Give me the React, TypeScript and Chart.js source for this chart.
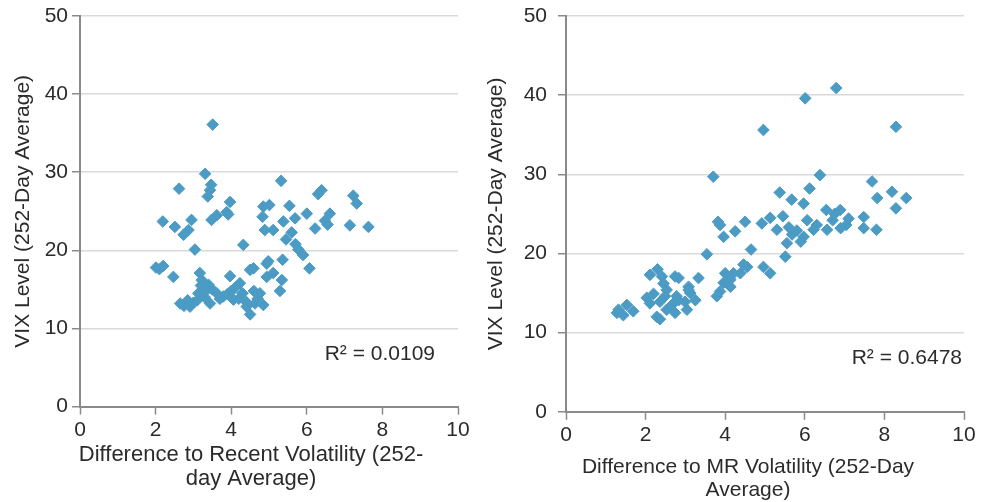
import React, { useEffect, useRef } from "react";
import { Chart, registerables } from "chart.js";

Chart.register(...registerables);

const FONT = "'Liberation Sans', Arial, sans-serif";
const TEXT = "#2b2b2b";
const AXIS = "#8a8a8a";
const GRID = "#dadada";
const MARKER = "#4b9bc4";

// Left panel: Difference to Recent Volatility vs VIX level
const recentDiff = [
  3.51, 3.31, 5.32, 3.47, 3.44, 2.62, 6.39, 6.3, 7.23, 7.32,
  3.38, 3.97, 5.01, 5.54, 4.85, 3.88, 3.62, 3.92, 4.83, 6.0,
  6.61, 5.69, 3.48, 2.19, 2.95, 5.38, 6.48, 2.51, 2.87, 7.14,
  7.63, 6.22, 6.55, 2.74, 4.89, 5.11, 5.6, 5.45, 4.32, 3.04,
  5.7, 5.78, 5.9, 2.01, 2.2, 2.1, 6.07, 4.59, 4.98, 5.36,
  4.94, 2.47, 3.17, 3.97, 4.5, 5.11, 5.34, 4.94, 4.23, 3.22,
  3.35, 5.29, 4.76, 3.13, 3.62, 3.79, 3.44, 4.06, 4.41, 4.5,
  2.65, 2.91, 2.75, 3.0, 3.3, 3.5, 3.2, 3.9, 4.2, 4.3,
  4.63, 4.85, 4.7, 4.6, 4.4, 4.0, 3.7, 3.1, 2.85, 3.4, 4.1,
];
const recentVix = [
  36.1, 29.8, 28.9, 28.4, 27.7, 27.9, 27.7, 27.2, 27.0, 26.0,
  26.9, 26.2, 25.8, 25.7, 25.6, 24.9, 24.5, 24.6, 24.3, 24.7,
  24.7, 24.1, 23.9, 23.7, 23.9, 23.7, 23.8, 23.0, 22.6, 23.2,
  23.0, 22.8, 23.3, 22.0, 22.6, 22.6, 22.3, 21.4, 20.7, 20.1,
  20.8, 20.1, 19.4, 17.8, 18.0, 17.6, 17.7, 17.7, 18.6, 18.8,
  18.3, 16.6, 17.1, 16.7, 17.5, 17.1, 16.2, 16.6, 15.8, 16.2,
  14.9, 14.8, 14.5, 14.5, 14.5, 14.1, 13.2, 13.7, 12.8, 11.8,
  13.2, 12.8, 12.9, 13.3, 14.0, 15.0, 15.5, 14.4, 13.8, 14.5,
  13.2, 13.0, 13.8, 14.8, 13.4, 14.8, 13.8, 13.6, 13.6, 15.6, 15.2,
];

// Right panel: Difference to MR Volatility vs VIX level
const mrDiff = [
  6.79, 6.01, 4.96, 8.29, 3.7, 6.38, 7.69, 6.12, 5.37, 8.19,
  5.67, 5.97, 7.82, 8.55, 8.29, 6.54, 6.89, 7.48, 7.8, 7.48,
  7.04, 6.7, 6.56, 6.06, 6.22, 5.97, 5.68, 5.55, 5.51, 5.45,
  5.13, 4.92, 4.5, 4.25, 3.96, 3.87, 3.82, 4.65, 3.54, 4.96,
  5.13, 4.55, 4.38, 4.13, 3.96, 4.0, 3.87, 3.79, 4.46, 4.21,
  4.04, 4.13, 2.3, 2.11, 2.41, 2.74, 2.83, 3.33, 3.08, 2.53,
  3.12, 2.78, 2.03, 2.11, 2.36, 2.7, 2.99, 2.53, 2.28, 2.36,
  2.74, 3.04, 1.53, 1.28, 1.69, 1.44, 2.49, 2.83, 3.25, 3.08,
  1.32, 2.2, 2.6, 2.45, 5.6, 5.8, 6.3, 6.9, 6.75, 7.1,
  5.3, 5.9,
];
const mrVix = [
  40.9, 39.6, 35.6, 36.0, 29.7, 29.9, 29.1, 28.2, 27.7, 27.8,
  26.8, 26.3, 27.0, 27.0, 25.7, 25.5, 25.5, 24.6, 23.0, 23.2,
  23.6, 24.2, 23.0, 24.2, 23.0, 22.1, 22.4, 21.3, 19.6, 24.7,
  24.5, 23.8, 24.0, 22.8, 22.1, 23.6, 24.0, 20.5, 19.9, 18.3,
  17.5, 18.3, 17.5, 16.7, 16.3, 17.5, 15.2, 14.6, 18.6, 17.5,
  16.3, 15.8, 18.0, 17.3, 17.1, 17.1, 16.9, 16.9, 15.8, 15.4,
  15.0, 14.6, 14.4, 13.7, 13.9, 13.7, 13.9, 12.9, 12.0, 11.7,
  12.5, 12.9, 13.5, 12.5, 12.7, 12.2, 14.6, 14.1, 14.1, 15.4,
  12.9, 14.9, 13.2, 16.2, 23.3, 22.9, 23.6, 23.2, 25.0, 24.4,
  23.0, 21.5,
];

const yTitle = "VIX Level (252-Day Average)";
const leftXTitle = ["Difference to Recent Volatility (252-", "day Average)"];
const rightXTitle = ["Difference to MR Volatility (252-Day", "Average)"];
const leftR2 = "R² = 0.0109";
const rightR2 = "R² = 0.6478";

type PanelProps = {
  xs: number[];
  ys: number[];
  xTitle: string[];
  r2: string;
  left: number;
  width: number;
  yAxisWidth: number;
  rightGap: number;
  xAxisHeight: number;
  padTop: number;
  titleSize: number;
  titlePadBottom: number;
  yTickPad: number;
  yTitlePad: number;
  r2Right: number;
  r2Up: number;
};

function Panel(p: PanelProps) {
  const ref = useRef<HTMLCanvasElement | null>(null);
  useEffect(() => {
    if (!ref.current) return;
    const points = p.xs.map((x, i) => ({ x, y: p.ys[i] }));
    const r2Plugin = {
      id: "r2label",
      afterDatasetsDraw(chart: any) {
        const { ctx, chartArea } = chart;
        ctx.save();
        ctx.font = `21px ${FONT}`;
        ctx.fillStyle = TEXT;
        ctx.textAlign = "right";
        ctx.textBaseline = "middle";
        ctx.fillText(p.r2, chartArea.right - p.r2Right, chartArea.bottom - p.r2Up);
        ctx.restore();
      },
    };
    const chart = new Chart(ref.current, {
      type: "scatter",
      data: {
        datasets: [
          {
            data: points,
            pointStyle: "rectRot",
            pointRadius: 5.8,
            pointBorderWidth: 1,
            backgroundColor: MARKER,
            borderColor: MARKER,
          },
        ],
      },
      options: {
        responsive: false,
        animation: false,
        layout: { padding: { top: p.padTop, left: 0, right: 0, bottom: 0 } },
        plugins: {
          legend: { display: false },
          tooltip: { enabled: false },
          title: {
            display: true,
            position: "bottom",
            text: p.xTitle,
            color: TEXT,
            font: { family: FONT, size: p.titleSize, weight: "normal", lineHeight: 1.1 },
            padding: { top: 0, bottom: p.titlePadBottom },
          },
        },
        scales: {
          x: {
            type: "linear",
            min: 0,
            max: 10,
            ticks: { stepSize: 2, color: TEXT, font: { family: FONT, size: 21 }, padding: 3 },
            grid: { drawOnChartArea: false, tickLength: 8, tickColor: AXIS, tickWidth: 1.5 },
            border: { color: AXIS, width: 2 },
            afterFit: (s: any) => {
              s.height = p.xAxisHeight;
            },
          },
          y: {
            type: "linear",
            min: 0,
            max: 50,
            ticks: { stepSize: 10, color: TEXT, font: { family: FONT, size: 21 }, padding: p.yTickPad },
            grid: { color: GRID, lineWidth: 1.5, tickLength: 8, tickColor: AXIS, tickWidth: 1.5 },
            border: { color: AXIS, width: 2 },
            title: {
              display: true,
              text: yTitle,
              color: TEXT,
              font: { family: FONT, size: 21, lineHeight: 1.2 },
              padding: { top: p.yTitlePad, bottom: 0 },
            },
            afterFit: (s: any) => {
              s.width = p.yAxisWidth;
              s.paddingTop = 0;
              s.paddingBottom = 0;
            },
          },
          gap: {
            type: "linear",
            position: "right",
            min: 0,
            max: 50,
            ticks: { display: false },
            grid: { display: false, drawTicks: false },
            border: { display: false },
            afterFit: (s: any) => {
              s.width = p.rightGap;
              s.paddingTop = 0;
              s.paddingBottom = 0;
            },
          },
        },
      },
      plugins: [r2Plugin],
    } as any);
    return () => chart.destroy();
  }, []);
  return (
    <canvas
      ref={ref}
      width={p.width}
      height={502}
      style={{ position: "absolute", left: p.left, top: 0, width: p.width, height: 502 }}
    />
  );
}

export default function App() {
  return (
    <div
      style={{
        position: "absolute",
        left: 0,
        top: 0,
        width: 985,
        height: 502,
        overflow: "hidden",
        background: "#ffffff",
      }}
    >
      <Panel
        xs={recentDiff}
        ys={recentVix}
        xTitle={leftXTitle}
        r2={leftR2}
        left={0}
        width={502}
        yAxisWidth={80}
        rightGap={44}
        xAxisHeight={36}
        padTop={16}
        titleSize={22}
        titlePadBottom={11}
        yTickPad={4}
        yTitlePad={11}
        r2Right={23}
        r2Up={52}
      />
      <Panel
        xs={mrDiff}
        ys={mrVix}
        xTitle={rightXTitle}
        r2={rightR2}
        left={475}
        width={546}
        yAxisWidth={91}
        rightGap={57}
        xAxisHeight={44}
        padTop={16}
        titleSize={21}
        titlePadBottom={0}
        yTickPad={11}
        yTitlePad={9}
        r2Right={2}
        r2Up={54}
      />
    </div>
  );
}
